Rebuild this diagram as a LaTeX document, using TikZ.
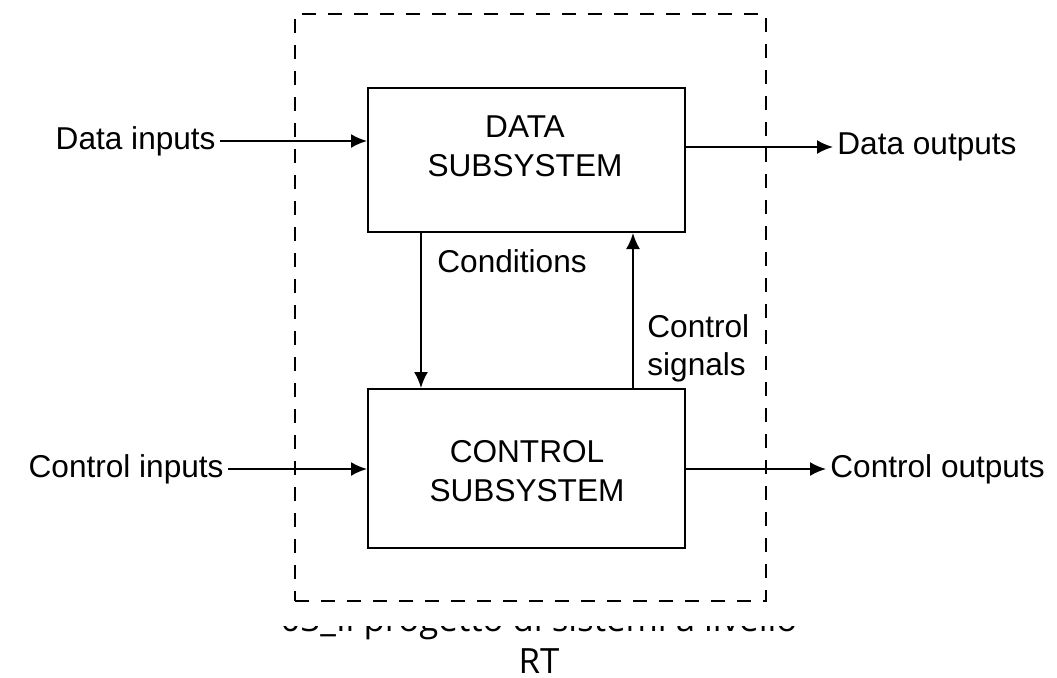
\documentclass[tikz,border=0pt]{standalone}
\usepackage{fontspec}
\setmainfont{Liberation Sans}
\newfontfamily\capfont{Open Sans}
\usepackage{tikz}
\usetikzlibrary{positioning}
\usetikzlibrary{arrows.meta}

\begin{document}
\begin{tikzpicture}[x=0.5pt,y=-0.5pt,
  blockbox/.style={draw,line width=1pt,minimum width=158.5pt,inner sep=0pt},
  boxtext/.style={align=center,font=\fontsize{15.8}{19.5}\selectfont},
  lbl/.style={inner sep=2pt,font=\fontsize{15.8}{19}\selectfont},
  sig/.style={line width=1pt,-{Latex[length=8pt,width=7pt]}},
  frame/.style={draw,line width=1pt,dash pattern=on 7pt off 6pt,
    minimum width=235.5pt,minimum height=293.5pt,inner sep=0pt}]
\useasboundingbox (0,0) rectangle (1057,677);

\node[frame] (sys) at (530.5,307.5) {};

\node[blockbox,minimum height=72pt] (data) at (526.5,160) {};
\node[blockbox,minimum height=79.5pt] (ctrl) at (526.5,468.5) {};
\node[boxtext] (datatxt) at (525,146.5) {DATA\\SUBSYSTEM};
\node[boxtext] (ctrltxt) at (527,471.5) {CONTROL\\SUBSYSTEM};

\node[lbl,anchor=east] (din) at (220,141) {Data inputs};
\node[lbl,anchor=west] (dout) at (833,147) {Data outputs};
\node[lbl,anchor=east] (cin) at (228,469) {Control inputs};
\node[lbl,anchor=west] (cout) at (826,469) {Control outputs};

\draw[sig] (din.east) -- (din.east -| data.west);
\draw[sig] (data.east |- dout.west) -- (dout.west);
\draw[sig] (cin.east) -- (cin.east -| ctrl.west);
\draw[sig] (ctrl.east |- cout.west) -- (cout.west);

% between the two subsystems
\draw[sig] ([xshift=27pt]data.south west) -- ([xshift=27pt]ctrl.north west);
\draw[sig] ([xshift=-26.5pt]ctrl.north east) -- ([xshift=-26.5pt]data.south east);
\node[lbl,anchor=west] (cond) at (433,261) {Conditions};
\node[lbl,anchor=west,align=left] (csig) at (643,348) {Control\\signals};

\begin{scope}
\clip (0,626) rectangle (1057,677);
\node[anchor=south,inner sep=0pt,align=center,
  font=\capfont\fontsize{17.4}{21}\selectfont] (caption) at (539,674)
  {03\_Il progetto di sistemi a livello\\RT};
\end{scope}

\end{tikzpicture}
\end{document}
